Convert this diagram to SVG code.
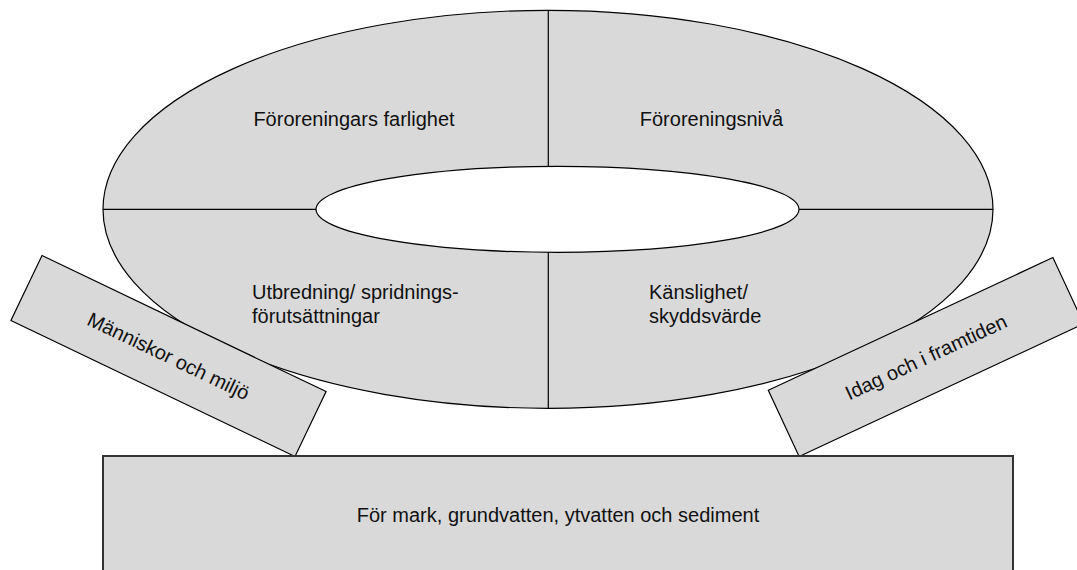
<svg xmlns="http://www.w3.org/2000/svg" width="1077" height="570" viewBox="0 0 1077 570">
  <style>
    .shape { fill: #d9d9d9; stroke: #000; stroke-width: 1.2; }
    .base { fill: #d9d9d9; stroke: #333; stroke-width: 2; }
    .div { stroke: #000; stroke-width: 1.2; fill: none; }
    .lbl { font-family: "Liberation Sans", Arial, sans-serif; font-size: 20px; fill: #111; }
  </style>
  <rect width="1077" height="570" fill="#fff"/>
  <g id="ring">
    <path class="shape" fill-rule="evenodd" d="M103,209.3 A445,199 0 1,0 993,209.3 A445,199 0 1,0 103,209.3 Z M316,209.3 A241.5,43 0 1,1 799,209.3 A241.5,43 0 1,1 316,209.3 Z"/>
  </g>
  <g id="dividers">
    <line class="div" x1="548.3" y1="10.3" x2="548.3" y2="166.3"/>
    <line class="div" x1="548.3" y1="252.3" x2="548.3" y2="408.3"/>
    <line class="div" x1="103" y1="209.3" x2="316" y2="209.3"/>
    <line class="div" x1="799" y1="209.3" x2="993" y2="209.3"/>
  </g>
  <g id="q-farlighet">
    <text class="lbl" x="354" y="125.5" text-anchor="middle">Föroreningars farlighet</text>
  </g>
  <g id="q-niva">
    <text class="lbl" x="711.5" y="125.5" text-anchor="middle">Föroreningsnivå</text>
  </g>
  <g id="q-utbredning">
    <text class="lbl" x="252" y="299.3">Utbredning/ spridnings-</text>
    <text class="lbl" x="252" y="323.3">förutsättningar</text>
  </g>
  <g id="q-kanslighet">
    <text class="lbl" x="649" y="299.3">Känslighet/</text>
    <text class="lbl" x="649" y="323.3">skyddsvärde</text>
  </g>
  <g id="box-manniskor" transform="translate(168.5,356) rotate(25.6)">
    <rect class="shape" x="-157.5" y="-36" width="315" height="72"/>
    <text class="lbl" x="0" y="7" text-anchor="middle">Människor och miljö</text>
  </g>
  <g id="box-idag" transform="translate(926,357) rotate(-25)">
    <rect class="shape" x="-157" y="-36.5" width="314" height="73"/>
    <text class="lbl" x="0" y="7" text-anchor="middle">Idag och i framtiden</text>
  </g>
  <g id="box-mark">
    <rect class="base" x="103" y="456" width="910" height="130"/>
    <text class="lbl" x="558" y="522.3" text-anchor="middle">För mark, grundvatten, ytvatten och sediment</text>
  </g>
</svg>
